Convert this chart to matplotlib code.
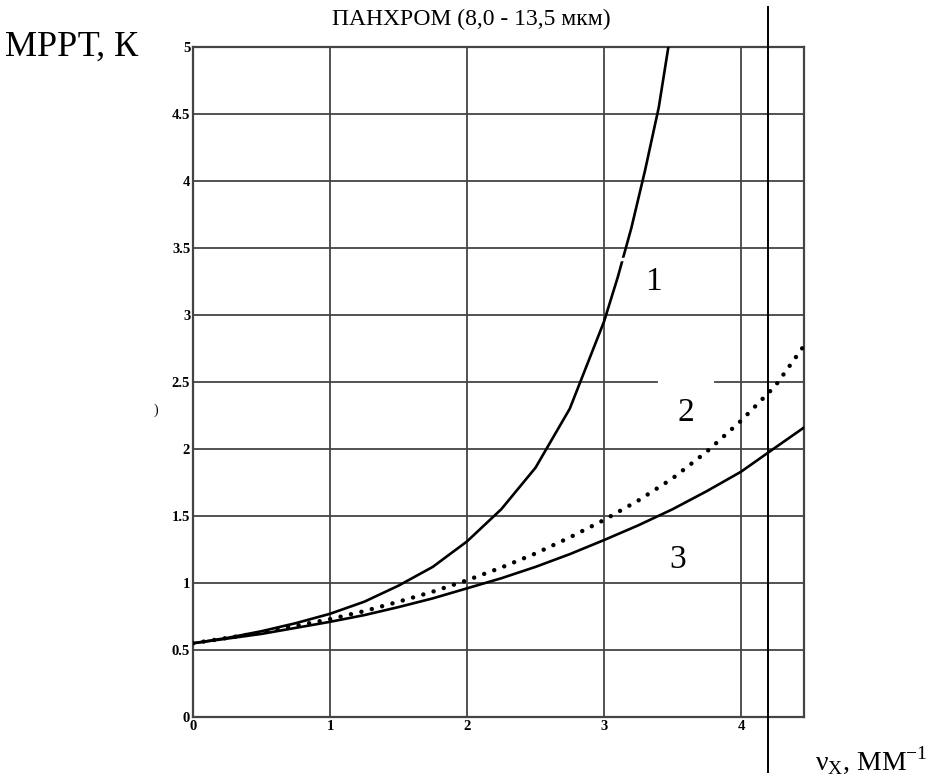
import matplotlib
matplotlib.use("Agg")
import matplotlib.pyplot as plt

# curve values
x1 = [0, 0.25, 0.5, 0.75, 1, 1.25, 1.5, 1.75, 2, 2.25, 2.5, 2.75, 3, 3.1, 3.2, 3.3, 3.4, 3.47]
y1 = [0.55, 0.59, 0.64, 0.70, 0.77, 0.86, 0.98, 1.12, 1.31, 1.55, 1.86, 2.3, 2.95,
      3.28, 3.65, 4.08, 4.55, 5.0]

x2 = [0, 0.25, 0.5, 0.75, 1, 1.25, 1.5, 1.75, 2, 2.25, 2.5, 2.75, 3, 3.25, 3.5, 3.75, 4, 4.25, 4.46]
y2 = [0.55, 0.59, 0.63, 0.68, 0.73, 0.79, 0.86, 0.935, 1.02, 1.115, 1.22, 1.34, 1.47,
      1.615, 1.78, 1.98, 2.21, 2.47, 2.77]

x3 = [0, 0.25, 0.5, 0.75, 1, 1.25, 1.5, 1.75, 2, 2.25, 2.5, 2.75, 3, 3.25, 3.5, 3.75, 4, 4.25, 4.46]
y3 = [0.55, 0.585, 0.62, 0.665, 0.71, 0.76, 0.82, 0.885, 0.96, 1.035, 1.12, 1.215, 1.32,
      1.43, 1.55, 1.685, 1.83, 2.01, 2.16]

xticks = [0, 1, 2, 3, 4]
yticks = [0, 0.5, 1, 1.5, 2, 2.5, 3, 3.5, 4, 4.5, 5]
ytick_labels = ["0", "0.5", "1", "1.5", "2", "2.5", "3", "3.5", "4", "4.5", "5"]
curve_labels = ["1", "2", "3"]
label_pos = [(3.36, 3.25), (3.6, 2.27), (3.54, 1.17)]
marker_x = 4.2

serif = "Liberation Serif"

fig = plt.figure(figsize=(9.42, 7.8), dpi=100)
ax = fig.add_axes([0.2049, 0.0808, 0.6486, 0.859])
ax.set_xlim(0, 4.46)
ax.set_ylim(0, 5)

ax.set_xticks(xticks)
ax.set_yticks(yticks)
ax.set_xticklabels([str(t) for t in xticks], fontsize=10.5, fontweight="bold", family=serif)
ax.set_yticklabels(ytick_labels, fontsize=10.5, fontweight="bold", family=serif)
ax.tick_params(length=0, pad=2)
ax.grid(True, color="#444444", linewidth=1.3)
for s in ax.spines.values():
    s.set_color("#444444")
    s.set_linewidth(1.6)

# gap in the 2.5 gridline above label 2
ax.plot([3.41, 3.79], [2.5, 2.5], color="white", linewidth=3, zorder=2.5)

ax.plot(x1, y1, color="black", linewidth=1.9, zorder=3)
ax.plot(x3, y3, color="black", linewidth=1.9, zorder=3)
ax.plot(x2, y2, color="black", linewidth=3.2, linestyle=(0, (0.01, 2.4)),
        dash_capstyle="round", zorder=3)

# small gap in curve 1 near the label
ax.plot([3.11, 3.19], [3.42, 3.42], color="white", linewidth=2.5, zorder=4)

for t, (lx, ly) in zip(curve_labels, label_pos):
    ax.text(lx, ly, t, fontsize=24, family=serif, ha="center", va="center")

# vertical marker line running past the axes
ax.plot([marker_x, marker_x], [-0.41, 5.3], color="black", linewidth=1.4,
        clip_on=False, zorder=4)

fig.text(0.005, 0.94, "МРРТ, К", fontsize=26, family=serif, ha="left", va="center")
fig.text(0.5, 0.975, "ПАНХРОМ (8,0 - 13,5 мкм)", fontsize=17, family=serif,
         ha="center", va="center")
fig.text(0.985, 0.025, r"$\mathregular{\nu_{X}}$, ММ$^{\mathregular{-1}}$", fontsize=20,
         family=serif, ha="right", va="center")
fig.text(0.165, 0.474, ")", fontsize=10, family=serif, ha="center", va="center")

fig.savefig("out.png", dpi=100)
